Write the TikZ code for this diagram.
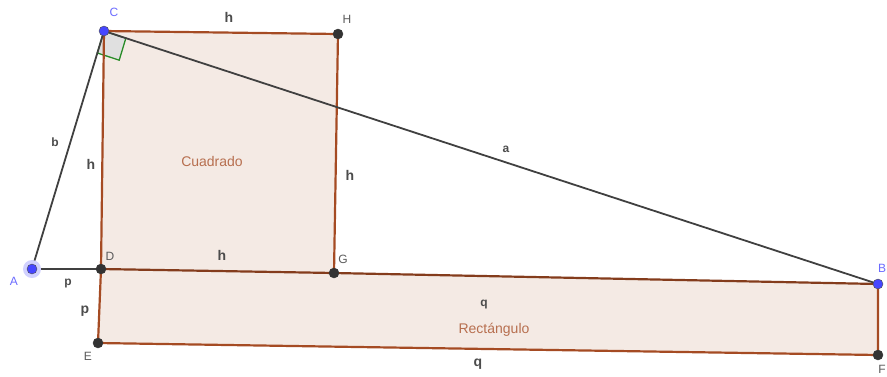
\documentclass[tikz,border=0pt]{standalone}
\usepackage{fontspec}
\setmainfont{Liberation Sans}
\usepackage{tikz}
\usetikzlibrary{calc}

\definecolor{ggbrown}{RGB}{165,75,35}
\definecolor{ggfill}{RGB}{244,234,228}
\definecolor{ggblue}{RGB}{70,70,255}
\definecolor{gggreen}{RGB}{40,140,40}
\definecolor{gglbl}{RGB}{90,90,90}

\tikzset{
  brownedge/.style={ggbrown,line width=2.2pt},
  blackseg/.style={black!75,line width=1.8pt},
  dotpt/.style={fill=black!80,draw=black!80},
  freept/.style={fill=ggblue,draw=black!70,line width=0.4pt},
  ptlbl/.style={gglbl,font=\fontsize{12}{14}\selectfont},
  seglbl/.style={black!70,font=\fontsize{14}{16}\selectfont\bfseries},
  smlbl/.style={black!70,font=\fontsize{12}{14}\selectfont\bfseries},
  arealbl/.style={ggbrown!80,font=\fontsize{14}{16}\selectfont}
}

\begin{document}
\begin{tikzpicture}[x=1pt,y=-1pt]
\useasboundingbox (0,0) rectangle (887,376);

% points
\coordinate (A) at (32,269);
\coordinate (C) at (104,31);
\coordinate (D) at (101,269);
\coordinate (G) at (334,273);
\coordinate (H) at (338,34);
\coordinate (B) at (878,284);
\coordinate (F) at (878,355);
\coordinate (E) at (98,343);

% filled regions
\fill[ggfill] (C) -- (H) -- (G) -- (D) -- cycle;
\fill[ggfill] (D) -- (G) -- (B) -- (F) -- (E) -- cycle;

% right angle at C
\coordinate (rb) at ($(C)!23pt!(B)$);
\coordinate (ra) at ($(C)!23pt!(A)$);
\filldraw[gggreen,fill=black!12,line width=1.3pt]
  (C) -- (rb) -- ($(rb)+(ra)-(C)$) -- (ra) -- cycle;

% square and rectangle edges
\draw[brownedge] (C) -- (H) -- (G);
\draw[brownedge] (C) -- (D) -- (E) -- (F) -- (B);
\draw[brownedge,ggbrown!80!black] (D) -- (G) -- (B);

% triangle
\draw[blackseg] (A) -- (C) -- (B);
\draw[blackseg] (A) -- (D);

% point marks
\fill[ggblue!25] (A) circle (9);
\foreach \p in {D,G,H,E,F} \filldraw[dotpt] (\p) circle (5);
\foreach \p in {A,C,B} \filldraw[freept] (\p) circle (5);

% point labels
\node[ptlbl,ggblue!80] (lA) at (14,281) {A};
\node[ptlbl,ggblue!80] (lC) at (114,12) {C};
\node[ptlbl,ggblue!80] (lB) at (882,268) {B};
\node[ptlbl] (lD) at (110,256) {D};
\node[ptlbl] (lG) at (343,259) {G};
\node[ptlbl] (lH) at (347,19) {H};
\node[ptlbl] (lE) at (88,356) {E};
\node[ptlbl] (lF) at (882,369) {F};

% segment labels
\node[seglbl] (hCH) at (229,17) {h};
\node[seglbl] (hCD) at (91,164) {h};
\node[seglbl] (hHG) at (350,175) {h};
\node[seglbl] (hDG) at (222,255) {h};
\node[smlbl] (sb) at (55,142) {b};
\node[smlbl] (sa) at (506,149) {a};
\node[smlbl] (pAD) at (68,284) {p};
\node[seglbl] (pDE) at (85,311) {p};
\node[smlbl] (qGB) at (484,305) {q};
\node[seglbl] (qEF) at (478,364) {q};

% area labels
\node[arealbl] (sq) at (212,161) {Cuadrado};
\node[arealbl] (rect) at (494,330) {Rectángulo};
\end{tikzpicture}
\end{document}
